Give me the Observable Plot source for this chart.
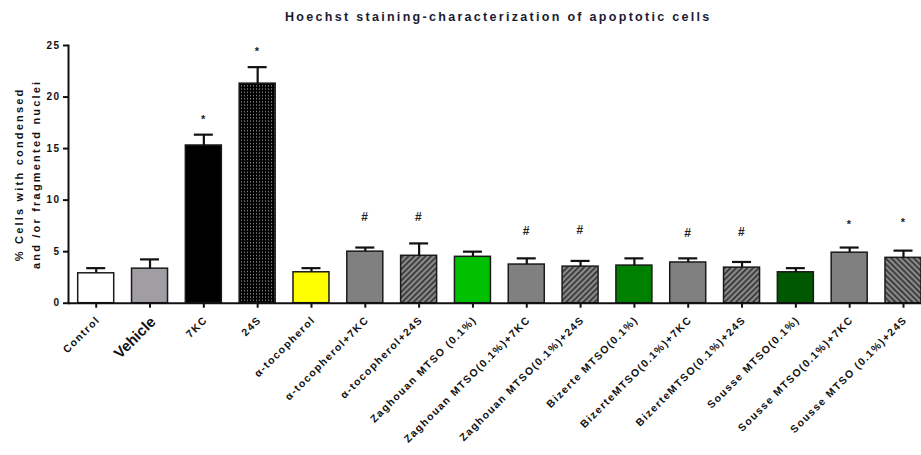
<!DOCTYPE html>
<html><head><meta charset="utf-8">
<script src="https://cdn.jsdelivr.net/npm/d3@7"></script>
<script src="https://cdn.jsdelivr.net/npm/@observablehq/plot@0.6"></script>
<style>
body{margin:0;background:#fff;font-family:"Liberation Sans",Arial,sans-serif;}
#title{height:30px;box-sizing:border-box;padding-top:8px;padding-left:285px;font-size:12.5px;font-weight:bold;letter-spacing:2.3px;color:#1b1b33;line-height:18px;white-space:nowrap;}
#chart svg text{letter-spacing:1.4px;}
</style></head><body>
<div id="title">Hoechst staining-characterization of apoptotic cells</div>
<div id="chart"></div>
<script>
const categories = ["Control","Vehicle","7KC","24S","α-tocopherol","α-tocopherol+7KC","α-tocopherol+24S","Zaghouan MTSO (0.1%)","Zaghouan MTSO(0.1%)+7KC","Zaghouan MTSO(0.1%)+24S","Bizerte MTSO(0.1%)","BizerteMTSO(0.1%)+7KC","BizerteMTSO(0.1%)+24S","Sousse MTSO(0.1%)","Sousse MTSO(0.1%)+7KC","Sousse MTSO (0.1%)+24S"];
const means  = [2.9, 3.35, 15.3, 21.3, 3.0, 5.0, 4.6, 4.5, 3.75, 3.55, 3.65, 3.95, 3.45, 3.0, 4.9, 4.4];
const errors = [0.5, 0.9, 1.05, 1.6, 0.4, 0.4, 1.2, 0.5, 0.6, 0.55, 0.7, 0.4, 0.55, 0.4, 0.5, 0.7];
const signif = ["", "", "*", "*", "", "#", "#", "", "#", "#", "", "#", "#", "", "*", "*"];
const signifLevel = [null, null, 18.1, 24.7, null, 8.3, 8.3, null, 7.0, 7.1, null, 6.8, 6.9, null, 7.95, 8.15];
const yTicks = [0, 5, 10, 15, 20, 25];

// styles
const barFill = ["#ffffff","#a09da3","#000000","url(#dots)","#ffff00","#808080","url(#hatch)","#00c000","#808080","url(#hatch)","#008000","#808080","url(#hatch)","#005800","#808080","url(#hatch2)"];

const rows = categories.map((c, i) => ({cat: c, mean: means[i], err: errors[i], fill: barFill[i], sig: signif[i], sigY: signifLevel[i]}));
const sigRows = rows.filter(d => d.sig);

const plot = Plot.plot({
  width: 921, height: 425,
  marginTop: 15, marginBottom: 152.3, marginLeft: 68, marginRight: 0,
  style: {fontFamily: "'Liberation Sans', Arial, sans-serif", fontSize: "10px", fontWeight: "bold", color: "#111", background: "#fff"},
  x: {domain: categories, range: [77.7, 921], paddingInner: 0.331, paddingOuter: 0, round: false},
  y: {domain: [0, 25]},
  color: {type: "identity"},
  marks: [
    Plot.barY(rows, {x: "cat", y: "mean", fill: "fill", stroke: "#1a1a1a", strokeWidth: 1.5}),
    Plot.ruleX(rows, {x: "cat", y1: "mean", y2: d => d.mean + d.err, stroke: "#111", strokeWidth: 2.2}),
    Plot.tickY(rows, {x: "cat", y: d => d.mean + d.err, stroke: "#111", strokeWidth: 2.2, insetLeft: 8.5, insetRight: 8.5}),
    Plot.text(sigRows.filter(d => d.sig === "*"), {x: "cat", y: "sigY", text: "sig", fontSize: 11, dy: 3, fill: "#222"}),
    Plot.text(sigRows.filter(d => d.sig === "#"), {x: "cat", y: "sigY", text: "sig", fontSize: 12, fill: "#222"}),
    Plot.axisY({ticks: yTicks, tickSize: 5, tickPadding: 3, label: null, strokeWidth: 2}),
    Plot.axisX({tickSize: 5, tickFormat: () => "", label: null, strokeWidth: 2}),
    Plot.text(categories, {x: d => d, y: 0, text: d => d, rotate: -45, textAnchor: "end", lineAnchor: "top", dx: -1, dy: 12, fontSize: d => d === "Vehicle" ? 15 : 10.5}),
    Plot.text(["% Cells with condensed\nand /or fragmented nuclei"], {frameAnchor: "left", textAnchor: "middle", text: d => d, rotate: -90, dx: -42.5, lineHeight: 1.55, fontSize: 11}),
    Plot.ruleY([0], {stroke: "#111", strokeWidth: 2}),
    Plot.frame({anchor: "left", stroke: "#111", strokeWidth: 2})
  ]
});

const svg = d3.select(plot);
const defs = svg.insert("defs", ":first-child");
const dots = defs.append("pattern").attr("id", "dots").attr("patternUnits", "userSpaceOnUse").attr("width", 3).attr("height", 3.2);
dots.append("rect").attr("width", 3).attr("height", 3.2).attr("fill", "#000");
dots.append("rect").attr("x", 1).attr("y", 1).attr("width", 1).attr("height", 1).attr("fill", "#bbb");
for (const [id, ang] of [["hatch", 45], ["hatch2", -45]]) {
  const p = defs.append("pattern").attr("id", id).attr("patternUnits", "userSpaceOnUse").attr("width", 4).attr("height", 4).attr("patternTransform", `rotate(${ang})`);
  p.append("rect").attr("width", 4).attr("height", 4).attr("fill", "#8a8a8a");
  p.append("rect").attr("width", 1.6).attr("height", 4).attr("fill", "#2e2e2e");
}
svg.selectAll("text").filter(function() { return this.textContent === "Vehicle"; }).style("letter-spacing", "0px");
svg.selectAll("text").filter(function() { return this.textContent.startsWith("% Cells"); }).style("letter-spacing", "2.2px");
document.getElementById("chart").appendChild(plot);
</script>
</body></html>
